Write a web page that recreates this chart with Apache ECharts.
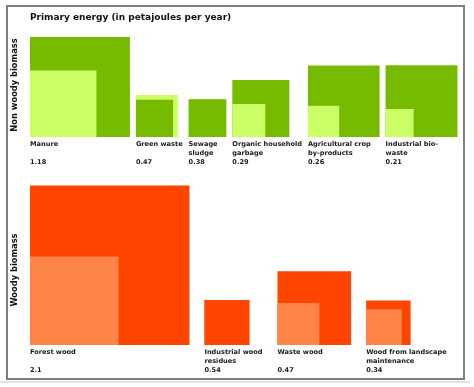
<!DOCTYPE html>
<html><head><meta charset="utf-8">
<script src="https://cdn.jsdelivr.net/npm/echarts@6/dist/echarts.min.js"></script>
<style>html,body{margin:0;padding:0;background:#fff}#c{width:474px;height:387px}</style>
</head><body><div id="c"></div>
<script>
// ---- data ----
const chartTitle = 'Primary energy (in petajoules per year)';
const groupNames = ['Non woody biomass', 'Woody biomass'];
const nonWoodyCategories = ['Manure', 'Green waste', 'Sewage\nsludge', 'Organic household\ngarbage', 'Agricultural crop\nby-products', 'Industrial bio-\nwaste'];
const nonWoodyUsed = [1.18, 0.47, 0.38, 0.29, 0.26, 0.21];        // light squares (labelled values)
const nonWoodyPotential = [2.67, 0.37, 0.38, 0.87, 1.37, 1.38];   // dark squares (estimated)
const woodyCategories = ['Forest wood', 'Industrial wood\nresidues', 'Waste wood', 'Wood from landscape\nmaintenance'];
const woodyUsed = [2.1, 0.54, 0.47, 0.34];
const woodyPotential = [6.8, 0.54, 1.45, 0.53];

// ---- style / layout ----
const PX_PER_SQRT_PJ = Math.sqrt(3740);
const FONT = '"DejaVu Sans", Verdana, sans-serif';
const LABEL_SIZE = 6.6;
const colors = {
  nonWoody: { dark: '#77bb00', light: '#ccff66' },
  woody: { dark: '#ff4500', light: '#ff8447' }
};

const ctx = document.createElement('canvas').getContext('2d');
ctx.font = 'bold ' + LABEL_SIZE + 'px ' + FONT;
function labelWidth(s) { return Math.max.apply(null, s.split('\n').map(l => ctx.measureText(l).width)); }
function side(v) { return Math.sqrt(v) * PX_PER_SQRT_PJ; }

function buildRow(cats, used, pot, gap) {
  let x = 0;
  return cats.map((c, i) => {
    const item = [x, pot[i], used[i], i];
    x += Math.max(side(pot[i]), side(used[i]), labelWidth(c)) + gap;
    return item;
  });
}
const rowTop = buildRow(nonWoodyCategories, nonWoodyUsed, nonWoodyPotential, 6);
const rowBottom = buildRow(woodyCategories, woodyUsed, woodyPotential, 15);

function makeRender(cats, used, col) {
  return function (params, api) {
    const x0 = api.value(0), pot = api.value(1), u = api.value(2), i = api.value(3);
    const base = api.coord([x0, 0]);
    const sp = api.size([side(pot), side(pot)]);
    const su = api.size([side(u), side(u)]);
    const rects = [
      { s: sp, fill: col.dark, z: 1 },
      { s: su, fill: col.light, z: 0 }
    ].sort((a, b) => (b.s[0] - a.s[0]) || (a.z - b.z));
    const children = rects.map(r => ({
      type: 'rect',
      shape: { x: base[0], y: base[1] - r.s[1], width: r.s[0], height: r.s[1] },
      style: { fill: r.fill }
    }));
    children.push({
      type: 'text',
      style: { text: cats[i], x: base[0], y: base[1] + 3, fill: '#1a1a1a', font: 'bold ' + LABEL_SIZE + 'px ' + FONT, verticalAlign: 'top', lineHeight: 9 }
    });
    children.push({
      type: 'text',
      style: { text: String(used[i]), x: base[0], y: base[1] + 22, fill: '#1a1a1a', font: 'bold ' + LABEL_SIZE + 'px ' + FONT, verticalAlign: 'top' }
    });
    return { type: 'group', children: children };
  };
}

const chart = echarts.init(document.getElementById('c'), null, { renderer: 'canvas' });
const axisHidden = { show: true, axisLine: { show: false }, axisTick: { show: false }, axisLabel: { show: false }, splitLine: { show: false } };
chart.setOption({
  animation: false,
  backgroundColor: '#fff',
  title: { text: chartTitle, left: 30, top: 13, padding: 0, textStyle: { fontFamily: FONT, fontSize: 9, fontWeight: 'bold', color: '#111' } },
  graphic: [
    { type: 'rect', shape: { x: 0, y: 381, width: 470, height: 2 }, style: { fill: '#dde4ec' }, silent: true },
    { type: 'rect', shape: { x: 7, y: 6, width: 457, height: 373 }, style: { fill: 'none', stroke: '#7f7f7f', lineWidth: 2 }, silent: true }
  ],
  grid: [
    { left: 30, top: 33, width: 434, height: 104 },
    { left: 30, top: 195, width: 434, height: 150 }
  ],
  xAxis: [
    Object.assign({ type: 'value', gridIndex: 0, min: 0, max: 434 }, axisHidden),
    Object.assign({ type: 'value', gridIndex: 1, min: 0, max: 434 }, axisHidden)
  ],
  yAxis: [
    Object.assign({ type: 'value', gridIndex: 0, min: 0, max: 104, name: groupNames[0], nameLocation: 'middle', nameRotate: 90, nameGap: 11,
      nameTextStyle: { fontFamily: FONT, fontSize: 8.3, fontWeight: 'bold', color: '#111' } }, axisHidden),
    Object.assign({ type: 'value', gridIndex: 1, min: 0, max: 150, name: groupNames[1], nameLocation: 'middle', nameRotate: 90, nameGap: 11,
      nameTextStyle: { fontFamily: FONT, fontSize: 8.3, fontWeight: 'bold', color: '#111' } }, axisHidden)
  ],
  series: [
    { type: 'custom', xAxisIndex: 0, yAxisIndex: 0, clip: false, data: rowTop, renderItem: makeRender(nonWoodyCategories, nonWoodyUsed, colors.nonWoody) },
    { type: 'custom', xAxisIndex: 1, yAxisIndex: 1, clip: false, data: rowBottom, renderItem: makeRender(woodyCategories, woodyUsed, colors.woody) }
  ]
});
</script></body></html>
